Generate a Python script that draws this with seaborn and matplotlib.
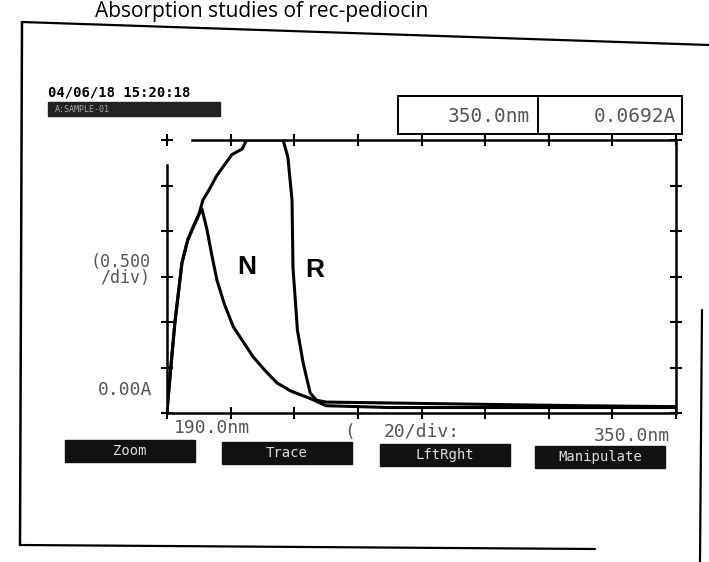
import numpy as np
import pandas as pd
import matplotlib
matplotlib.use("Agg")
import matplotlib.pyplot as plt
import seaborn as sns
from matplotlib.patches import Rectangle
from matplotlib.lines import Line2D

# ---- data ----
wl_N = [190, 191.2, 192.5, 194.7, 196.5, 198.2, 200, 201, 202.6, 204, 205.7, 208, 210.8,
        214, 217, 221, 224.6, 229, 235, 240, 260, 280, 300, 320, 350]
abs_N = [0.02, 0.5, 1.0, 1.65, 1.9, 2.04, 2.18, 2.24, 2.01, 1.75, 1.46, 1.2, 0.95,
         0.78, 0.62, 0.46, 0.33, 0.24, 0.16, 0.08, 0.06, 0.06, 0.06, 0.06, 0.06]
wl_R = [190, 191.2, 192.5, 194.7, 196.5, 198.2, 200, 201.3, 203.5, 205.5, 207.3, 210.4,
        213.6, 215, 220, 226.5, 228, 229.3, 229.6, 231, 232.8, 235, 237, 240, 260, 280,
        300, 320, 350]
abs_R = [0.02, 0.5, 1.0, 1.65, 1.9, 2.04, 2.18, 2.34, 2.47, 2.6, 2.69, 2.84,
         2.9, 3.0, 3.0, 3.0, 2.81, 2.34, 1.6, 0.91, 0.55, 0.22, 0.14, 0.12, 0.11, 0.10,
         0.09, 0.08, 0.07]
curve_labels = ["N", "R"]
x_ticks = [190, 210, 230, 250, 270, 290, 310, 330, 350]
y_ticks = [0.0, 0.5, 1.0, 1.5, 2.0, 2.5, 3.0]
title_text = "Absorption studies of rec-pediocin"
timestamp = "04/06/18 15:20:18"
readout_wl = "350.0nm"
readout_abs = "0.0692A"
x_start_lbl = "190.0nm"
x_end_lbl = "350.0nm"
x_div_lbl = "20/div:"
y_div_lbl = "(0.500\n/div)"
y_zero_lbl = "0.00A"
buttons = ["Zoom", "Trace", "LftRght", "Manipulate"]

df = pd.concat([
    pd.DataFrame({"wl": wl_N, "A": abs_N, "sample": "N"}),
    pd.DataFrame({"wl": wl_R, "A": abs_R, "sample": "R"}),
])

sns.set_style("white")
plt.rcParams["font.family"] = ["DejaVu Sans"]

W, H = 709, 562
fig = plt.figure(figsize=(W / 100, H / 100), dpi=100)
fig.patch.set_facecolor("white")

def fx(px):
    return px / W

def fy(py):
    return 1 - py / H

ax = fig.add_axes([fx(167), fy(413), fx(676) - fx(167), fy(140) - fy(413)])
for s in curve_labels:
    sns.lineplot(data=df[df["sample"] == s], x="wl", y="A", sort=False,
                 estimator=None, color="black", linewidth=2.2, ax=ax)

ax.set_xlim(190, 350)
ax.set_ylim(0, 3.0)
ax.set_xlabel("")
ax.set_ylabel("")
ax.set_xticks(x_ticks)
ax.set_yticks(y_ticks)
ax.set_xticklabels([])
ax.set_yticklabels([])
ax.tick_params(axis="both", direction="inout", length=8, width=1.5, color="black",
               left=True, right=True, bottom=True, top=True)
for sp in ax.spines.values():
    sp.set_color("black")
    sp.set_linewidth(1.8)
ax.spines["left"].set_bounds(0, 2.72)
ax.spines["top"].set_bounds(198, 350)
ax.set_facecolor("none")

ax.text(215, 1.6, "N", fontsize=19, fontweight="bold", ha="center", va="center",
        family="Liberation Sans", color="black")
ax.text(236.5, 1.57, "R", fontsize=19, fontweight="bold", ha="center", va="center",
        family="Liberation Sans", color="black")

mono = "DejaVu Sans Mono"
gray = "#555555"

# title (top of the scanned page)
fig.text(fx(95), fy(17), title_text, fontsize=15, ha="left", va="baseline",
         family="Open Sans", color="black")

# scan border lines
fig.add_artist(Line2D([fx(22), fx(709)], [fy(22), fy(45)], color="black", lw=1.6))
fig.add_artist(Line2D([fx(22), fx(20)], [fy(22), fy(545)], color="black", lw=1.8))
fig.add_artist(Line2D([fx(20), fx(595)], [fy(545), fy(549)], color="black", lw=1.6))
fig.add_artist(Line2D([fx(702), fx(700)], [fy(310), fy(562)], color="black", lw=1.6))

# timestamp and highlighted bar
fig.text(fx(48), fy(93), timestamp, fontsize=10, family=mono, color="black",
         va="center", ha="left", fontweight="bold")
fig.add_artist(Rectangle((fx(48), fy(116)), fx(172), 14 / H, color="#222222"))
fig.text(fx(55), fy(109), "A:SAMPLE-01", fontsize=6, family=mono, color="#aaaaaa",
         va="center", ha="left")

# readout box
fig.add_artist(Rectangle((fx(398), fy(134)), fx(284), 38 / H, fill=False,
                         edgecolor="black", lw=1.4))
fig.add_artist(Line2D([fx(538), fx(538)], [fy(134), fy(98)], color="black", lw=1.4))
fig.text(fx(530), fy(116), readout_wl, fontsize=14, family=mono, color=gray,
         ha="right", va="center")
fig.text(fx(676), fy(116), readout_abs, fontsize=14, family=mono, color=gray,
         ha="right", va="center")

# axis labels
fig.text(fx(150), fy(270), y_div_lbl, fontsize=12, family=mono, color=gray,
         ha="right", va="center", linespacing=0.9)
fig.text(fx(152), fy(390), y_zero_lbl, fontsize=13, family=mono, color=gray,
         ha="right", va="center")
fig.text(fx(174), fy(428), x_start_lbl, fontsize=13, family=mono, color=gray,
         ha="left", va="center")
fig.text(fx(344), fy(432), "(", fontsize=13, family=mono, color=gray,
         ha="left", va="center")
fig.text(fx(384), fy(432), x_div_lbl, fontsize=13, family=mono, color=gray,
         ha="left", va="center")
fig.text(fx(670), fy(436), x_end_lbl, fontsize=13, family=mono, color=gray,
         ha="right", va="center")

# function buttons
btn_x = [65, 222, 380, 535]
btn_y = [440, 442, 444, 446]
for bx, by, lbl in zip(btn_x, btn_y, buttons):
    fig.add_artist(Rectangle((fx(bx), fy(by + 22)), fx(130), 22 / H, color="#111111"))
    fig.text(fx(bx + 65), fy(by + 11), lbl, fontsize=10, family=mono,
             color="#dddddd", ha="center", va="center")

fig.savefig("out.png", dpi=100, facecolor="white")
